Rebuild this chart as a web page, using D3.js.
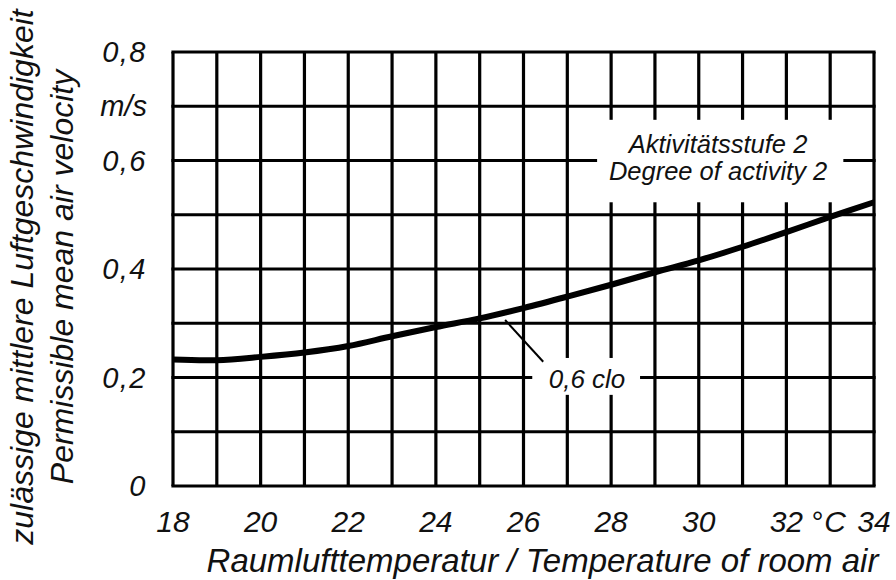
<!DOCTYPE html>
<html>
<head>
<meta charset="utf-8">
<script src="https://cdn.jsdelivr.net/npm/d3@7"></script>
<style>
  body { margin: 0; background: #fff; }
  text { font-family: "Liberation Sans", Arial, sans-serif; font-style: italic; fill: #111; }
</style>
</head>
<body>
<div id="chart"></div>
<script>
// data
let temps = [18, 19, 20, 21, 22, 23, 24, 25, 26, 27, 28, 29, 30, 31, 32, 33, 34];
let velocity = [0.233, 0.232, 0.238, 0.246, 0.258, 0.276, 0.293, 0.309, 0.328, 0.349, 0.371, 0.394, 0.416, 0.441, 0.468, 0.496, 0.523];
let xTicks = [18, 20, 22, 24, 26, 28, 30, 32, 34];
let yTicks = [0, 0.2, 0.4, 0.6, 0.8];
let yTickLabels = ["0", "0,2", "0,4", "0,6", "0,8"];
let yUnit = "m/s";
let xUnit = "°C";
let xTitle = "Raumlufttemperatur / Temperature of room air";
let yTitle = ["zulässige mittlere Luftgeschwindigkeit", "Permissible mean air velocity"];
let activityText = ["Aktivitätsstufe 2", "Degree of activity 2"];
let cloText = "0,6 clo";

let margin = {top: 52, right: 22, bottom: 94, left: 173};
let W = 896, H = 580;
let width = W - margin.left - margin.right;
let height = H - margin.top - margin.bottom;

let svg = d3.select("#chart")
    .append("svg")
        .attr("width", W)
        .attr("height", H)
    .append("g")
        .attr("transform", "translate(" + margin.left + "," + margin.top + ")");

let x = d3.scaleLinear().domain([18, 34]).range([0, width]);
let y = d3.scaleLinear().domain([0, 0.8]).range([height, 0]);

// grid, one line per degree and per 0.1 m/s
let grid = svg.append("g").attr("stroke", "#000").attr("stroke-width", 3.2);
grid.selectAll(".vline")
    .data(d3.range(18, 35, 1))
    .enter()
    .append("line")
        .attr("x1", d => x(d)).attr("x2", d => x(d))
        .attr("y1", 0).attr("y2", height);
grid.selectAll(".hline")
    .data(d3.range(0, 9).map(i => i / 10))
    .enter()
    .append("line")
        .attr("x1", -1.6).attr("x2", width + 1.6)
        .attr("y1", d => y(d)).attr("y2", d => y(d));

// white boxes behind the labels
svg.append("rect")
    .attr("x", x(27.68)).attr("y", y(0.675))
    .attr("width", x(33.3) - x(27.68)).attr("height", y(0.523) - y(0.675))
    .attr("fill", "#fff");
svg.append("rect")
    .attr("x", x(26.2)).attr("y", y(0.236))
    .attr("width", x(28.66) - x(26.2)).attr("height", y(0.168) - y(0.236))
    .attr("fill", "#fff");

// curve
let line = d3.line()
    .x((d, i) => x(temps[i]))
    .y(d => y(d))
    .curve(d3.curveCatmullRom);
svg.append("path")
    .datum(velocity)
    .attr("d", line)
    .attr("fill", "none")
    .attr("stroke", "#000")
    .attr("stroke-width", 6);

// leader line to the clo label
svg.append("line")
    .attr("x1", x(25.58)).attr("y1", y(0.306))
    .attr("x2", x(26.45)).attr("y2", y(0.229))
    .attr("stroke", "#000").attr("stroke-width", 2);

svg.append("text")
    .attr("x", x(27.45)).attr("y", y(0.2) + 10)
    .attr("text-anchor", "middle")
    .style("font-size", "26px")
    .text(cloText);

svg.selectAll(".act")
    .data(activityText)
    .enter()
    .append("text")
        .attr("x", x(30.44))
        .attr("y", (d, i) => y(0.615) + 1 + i * 27)
        .attr("text-anchor", "middle")
        .style("font-size", "25.5px")
        .text(d => d);

// y tick labels
svg.selectAll(".ytick")
    .data(yTicks)
    .enter()
    .append("text")
        .attr("x", -26)
        .attr("y", d => y(d) + 10)
        .attr("text-anchor", "end")
        .style("font-size", "29px")
        .style("letter-spacing", "1.5px")
        .text((d, i) => yTickLabels[i]);
svg.append("text")
    .attr("x", -26).attr("y", y(0.7) + 10)
    .attr("text-anchor", "end")
    .style("font-size", "29px")
    .text(yUnit);

// x tick labels
svg.selectAll(".xtick")
    .data(xTicks)
    .enter()
    .append("text")
        .attr("x", d => x(d))
        .attr("y", height + 46)
        .attr("text-anchor", "middle")
        .style("font-size", "30px")
        .text(d => d);
svg.append("text")
    .attr("x", x(32) + 24).attr("y", height + 46)
    .attr("text-anchor", "start")
    .style("font-size", "30px")
    .style("letter-spacing", "2px")
    .text(xUnit);

// axis titles
svg.append("text")
    .attr("x", (200 + 885) / 2 - margin.left).attr("y", height + 86)
    .attr("text-anchor", "middle")
    .style("font-size", "33px")
    .text(xTitle);

svg.selectAll(".ytitle")
    .data(yTitle)
    .enter()
    .append("text")
        .attr("transform", (d, i) => "translate(" + (33 + i * 40 - margin.left) + "," + (277 - margin.top) + ") rotate(-90)")
        .attr("text-anchor", "middle")
        .style("font-size", "32px")
        .text(d => d);
</script>
</body>
</html>
